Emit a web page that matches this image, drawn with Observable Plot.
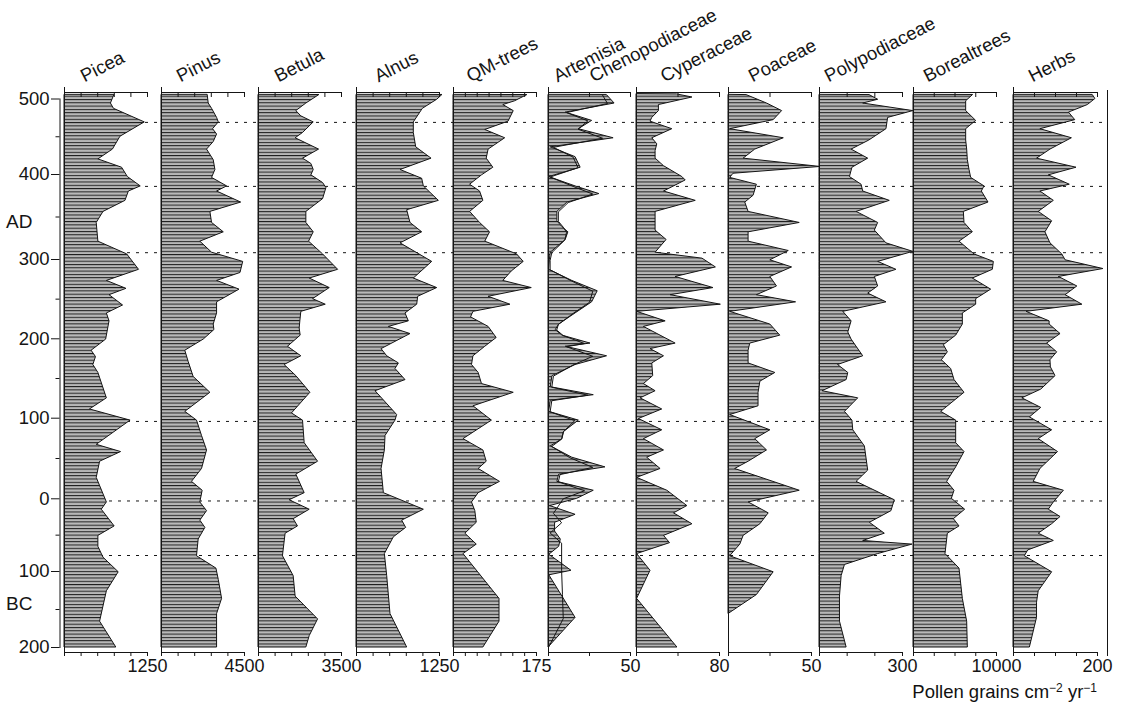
<!DOCTYPE html>
<html><head><meta charset="utf-8">
<script src="https://cdn.jsdelivr.net/npm/d3@7"></script>
<script src="https://cdn.jsdelivr.net/npm/@observablehq/plot@0.6"></script>
<style>
html,body{margin:0;padding:0;background:#fff;}
#chart{position:relative;width:1122px;height:704px;overflow:hidden;font-family:"Liberation Sans",Arial,sans-serif;color:#111;}
#chart svg.layer{position:absolute;left:0;top:0;}
#caption{position:absolute;right:25px;top:683px;font-size:18.5px;line-height:18px;white-space:nowrap;}
#caption sup{font-size:12px;vertical-align:6px;line-height:0;}
</style></head><body>
<svg width="0" height="0" style="position:absolute"><defs>
<pattern id="hatch" patternUnits="userSpaceOnUse" x="0" y="0" width="12" height="3.3">
<rect width="12" height="3.3" fill="#b8b8b8"/><rect y="0" width="12" height="1" fill="#1e1e1e"/>
</pattern></defs></svg>
<div id="chart"><div id="caption">Pollen grains cm<sup>−2</sup> yr<sup>−1</sup></div></div>
<script>
// ---- data: [year (AD +, BC −), pollen influx] ----
const yearTicks = [500, 400, 300, 200, 100, 0, -100, -200];
const yearMinor = [450, 350, 250, 150, 50, -50, -150];
// age–depth model: relative core depth of each labelled age
const tickDepth = [0, 75.5, 160.5, 239.8, 319.2, 399.8, 472.5, 548.5];
const zoneYears = [469, 386, 308, 96, -3, -78];
const eraLabels = [{label: "AD", year: 344}, {label: "BC", year: -143}];

const picea = [[505,750],[494,699],[487,745],[469,1209],[450,842],[433,729],[420,510],[409,867],[397,954],[386,1148],[380,969],[369,918],[356,587],[343,485],[321,510],[306,944],[287,1122],[273,638],[263,933],[255,678],[242,882],[232,638],[222,678],[199,627],[185,408],[177,474],[167,434],[157,510],[125,638],[111,383],[97,995],[67,485],[58,852],[46,536],[26,485],[-5,638],[-15,561],[-38,755],[-51,510],[-66,510],[-81,587],[-101,816],[-126,638],[-166,536],[-200,780]];
const pinus = [[505,2505],[494,2559],[487,2741],[475,3013],[469,3104],[460,2795],[453,3013],[443,2831],[433,2468],[419,2831],[406,2922],[396,2741],[386,3557],[380,3013],[367,4320],[356,2650],[343,2741],[332,3376],[321,2105],[308,2741],[297,4429],[283,4283],[273,3013],[262,4229],[246,3013],[232,3013],[218,2831],[211,2868],[199,2287],[185,1289],[171,1470],[152,1742],[132,2650],[108,1289],[97,1924],[78,2196],[60,2468],[37,2196],[21,1652],[10,2232],[-5,2105],[-17,2468],[-30,2105],[-40,2378],[-56,2015],[-79,1924],[-96,2977],[-111,3104],[-136,3285],[-156,3013],[-200,3013]];
const betula = [[505,2554],[494,2018],[484,1594],[477,1806],[469,2328],[455,1877],[448,1566],[433,2554],[421,1877],[414,2229],[406,2328],[399,2229],[390,2723],[384,2864],[371,2723],[356,2018],[343,2018],[332,2328],[321,2131],[306,2723],[287,3358],[276,2159],[264,3005],[250,2300],[243,2836],[234,1806],[222,1764],[213,1736],[204,1778],[190,1242],[178,1806],[167,1101],[153,1594],[132,2187],[106,1411],[97,1877],[69,1947],[46,2512],[30,1594],[7,1947],[-2,1312],[-15,2159],[-28,1482],[-38,1665],[-48,1143],[-79,1030],[-106,1482],[-133,1566],[-163,2512],[-185,2159],[-200,2018]];
const alnus = [[505,1290],[499,1215],[487,999],[469,863],[455,863],[436,899],[421,1130],[406,663],[395,989],[386,1014],[369,1240],[358,763],[343,813],[332,989],[319,663],[297,1140],[276,863],[264,1215],[253,929],[243,914],[232,738],[222,788],[215,487],[206,813],[187,377],[178,462],[169,638],[162,587],[148,738],[134,286],[104,612],[97,587],[78,437],[60,427],[37,377],[7,412],[-15,1014],[-30,688],[-40,748],[-53,562],[-76,427],[-106,462],[-156,512],[-200,763]];
const qmTrees = [[505,155],[497,130],[492,105],[484,127],[470,116],[459,67],[448,109],[433,74],[421,70],[409,84],[399,60],[388,35],[380,56],[369,63],[356,35],[343,56],[332,77],[321,67],[306,134],[297,148],[285,123],[273,105],[264,165],[253,74],[243,120],[234,42],[227,37],[215,74],[201,91],[190,67],[178,42],[167,39],[157,53],[143,60],[132,127],[115,42],[97,81],[74,21],[60,63],[46,70],[37,53],[21,98],[7,53],[-5,39],[-17,46],[-33,49],[-48,25],[-63,49],[-76,21],[-136,97],[-166,97],[-200,63]];
const artemisia = [[505,35.7],[494,40.3],[482,10.5],[471,26.6],[460,18.5],[448,39.7],[436,1.4],[423,16.5],[409,19.6],[397,0.4],[386,16.5],[377,31],[367,11.5],[356,5.4],[345,5.4],[338,8.5],[332,12.1],[323,10.5],[308,1.4],[299,0.8],[287,0.4],[273,14.5],[260,30],[246,26.6],[232,16.5],[218,6.5],[211,4.4],[204,8.5],[194,25.6],[190,10.5],[178,35.7],[167,16.5],[153,2.4],[139,1.4],[129,27.6],[122,1.4],[108,0.4],[97,18.5],[83,9.5],[74,8.5],[65,1.4],[51,14.5],[39,34.7],[30,6.5],[21,5.4],[10,27.6],[0,17.5],[-10,1],[-22,16.5],[-33,4],[-45,4],[-56,7.5],[-66,6.5],[-77,0.5],[-99,14],[-105,0.5],[-161,16.5],[-200,0]];
const chenopodiaceae = [[505,33],[494,36],[482,11],[471,24],[460,18],[448,33],[436,3],[423,15],[409,18],[397,1],[386,15],[377,27],[367,12],[356,6],[345,6],[338,9],[332,11],[323,10],[308,2],[299,1],[287,1],[273,14],[260,27],[246,25],[232,15],[218,6],[211,5],[204,9],[194,22],[190,11],[178,27],[167,15],[153,3],[139,2],[129,24],[122,2],[108,1],[97,16],[83,9],[74,8],[65,2],[51,13],[39,27],[30,7],[21,6],[10,22],[0,9],[-10,6],[-20,3],[-33,8],[-47,1],[-61,8],[-99,8],[-130,8.5],[-162,9],[-200,0]];
const cyperaceae = [[506,39.4],[502,53.9],[492,21.6],[484,21.6],[475,15.2],[470,13.5],[460,34.5],[448,15.2],[440,20],[431,18.4],[421,18.4],[411,26.5],[397,44.2],[393,47.4],[380,26.5],[369,57.1],[356,18.4],[334,18.4],[323,29],[308,18.4],[301,63.6],[290,76.5],[278,37.7],[264,74.2],[255,32.9],[243,81.3],[234,0.6],[222,28.1],[215,7.1],[194,37.7],[187,13.5],[178,26.5],[169,15.2],[153,16.1],[143,7.1],[134,18.4],[125,3.9],[111,24.8],[99,2.3],[85,24.8],[74,7.1],[60,26.5],[51,10.3],[37,23.2],[26,0.6],[10,29.7],[-10,49],[-20,36.1],[-35,53.9],[-51,26.5],[-61,32.3],[-76,0.6],[-99,13.5],[-136,0.6],[-200,39.4]];
const poaceae = [[505,11.1],[494,23.2],[484,32.3],[472,27.2],[460,1],[448,33.3],[433,16.1],[421,9.1],[410,55.4],[401,3],[396,1],[388,17.1],[375,15.1],[367,10.1],[356,12.1],[343,42.9],[332,12.1],[321,12.1],[310,36.3],[299,25.2],[290,38.3],[278,25.2],[266,29.2],[255,17.1],[246,40.7],[234,1],[218,25.2],[204,31.2],[194,13.1],[185,12.1],[169,12.1],[157,28.2],[146,19.2],[132,18.1],[115,18.1],[104,1],[85,25.2],[74,16.1],[60,23.2],[46,12.1],[37,4],[10,42.9],[-5,12.1],[-20,24.2],[-35,19.2],[-51,9.1],[-63,7.1],[-79,1],[-101,27.2],[-131,17.1],[-156,0]];
const polypodiaceae = [[505,182],[499,212],[494,158],[484,339],[475,248],[460,242],[445,180],[433,116],[421,176],[409,119],[397,110],[388,152],[380,158],[369,254],[356,134],[343,212],[334,200],[319,242],[309,339],[297,212],[287,278],[278,200],[266,212],[257,176],[246,242],[234,86],[222,116],[208,104],[199,116],[178,158],[167,67],[157,104],[148,98],[134,11],[125,140],[108,92],[97,119],[85,122],[65,164],[35,176],[21,134],[-2,272],[-17,260],[-33,182],[-48,236],[-58,158],[-63,336],[-76,212],[-91,92],[-106,80],[-133,74],[-166,74],[-200,98]];
const borealTrees = [[505,7148],[497,6345],[484,6345],[471,7550],[460,6345],[445,6345],[433,6466],[419,6546],[406,6747],[396,6948],[386,8554],[380,8233],[367,9036],[356,6064],[343,6144],[332,7148],[321,5542],[306,7349],[297,9679],[287,9558],[276,7148],[262,9357],[250,7550],[243,7550],[232,5944],[218,5944],[204,5140],[192,3655],[183,4136],[173,3414],[162,4538],[148,4940],[132,6144],[108,3333],[97,5140],[69,5140],[58,6144],[39,5140],[21,4056],[10,4940],[0,4618],[-15,6225],[-28,4859],[-38,5542],[-48,4136],[-76,3855],[-96,5542],[-136,5944],[-166,6466],[-200,6546]];
const herbs = [[505,189],[500,195],[492,177],[482,132],[472,147],[460,64],[448,139],[433,88],[421,56],[409,150],[399,84],[388,134],[380,64],[369,96],[356,60],[345,92],[332,76],[319,88],[306,116],[299,124],[288,214],[278,108],[266,152],[255,124],[243,164],[234,31],[222,86],[218,86],[206,112],[194,80],[183,104],[173,88],[164,89],[153,100],[136,66],[125,21],[113,66],[101,39],[85,92],[74,60],[58,106],[37,64],[21,48],[10,120],[-5,96],[-15,84],[-25,112],[-35,92],[-48,60],[-58,96],[-71,35],[-79,27],[-101,92],[-126,60],[-141,56],[-161,56],[-200,39]];

// ---- layout ----
const W = 1122, H = 704;
const ageDepth = d3.scaleLinear().domain(yearTicks).range(tickDepth); // year -> depth (piecewise)
const depthExtent = [tickDepth[0], tickDepth[tickDepth.length - 1]];
const depthRange = [98.5, 647];
const yOf = year => ageDepth(year);
const panels = [
  {titles: [["Picea", 20]], fill: picea, max: 1250, step: 250, left: 64, right: 147},
  {titles: [["Pinus", 19]], fill: pinus, max: 4500, step: 900, left: 161, right: 244},
  {titles: [["Betula", 20]], fill: betula, max: 3500, step: 700, left: 258, right: 341},
  {titles: [["Alnus", 22]], fill: alnus, max: 1250, step: 250, left: 356, right: 439},
  {titles: [["QM-trees", 17]], fill: qmTrees, max: 175, step: 25, left: 453, right: 536},
  {titles: [["Artemisia", 9], ["Chenopodiaceae", 45]], fill: artemisia, line: chenopodiaceae, max: 50, step: 25, left: 548, right: 630},
  {titles: [["Cyperaceae", 28]], fill: cyperaceae, max: 80, step: 40, left: 636, right: 719},
  {titles: [["Poaceae", 24]], fill: poaceae, max: 50, step: 25, left: 728, right: 811},
  {titles: [["Polypodiaceae", 9]], fill: polypodiaceae, max: 300, step: 100, left: 819, right: 902},
  {titles: [["Borealtrees", 14]], fill: borealTrees, max: 10000, step: 2500, left: 913, right: 996},
  {titles: [["Herbs", 19]], fill: herbs, max: 200, step: 50, left: 1013, right: 1097}
];
const ink = "#151515";
const baseStyle = {background: "transparent", fontFamily: "'Liberation Sans', Arial, sans-serif", fontSize: "18px", color: ink, overflow: "visible", maxWidth: "none"};
const yScale = {domain: depthExtent, range: depthRange};
const chart = document.getElementById("chart");
function add(svg) { svg.classList.add("layer"); svg.style.position = "absolute"; svg.style.left = "0"; svg.style.top = "0"; chart.appendChild(svg); }

// dashed zone lines + right border (underneath everything)
add(Plot.plot({
  width: W, height: H, marginLeft: 64, marginRight: W - 1107, marginTop: 90, marginBottom: H - 655,
  style: baseStyle,
  y: {...yScale, axis: null},
  marks: [
    Plot.ruleY(zoneYears, {y: yOf, stroke: ink, strokeWidth: 1, strokeDasharray: "3,6"}),
    Plot.frame({anchor: "right", stroke: ink})
  ]
}));

// age axis
add(Plot.plot({
  width: W, height: H, marginLeft: 59.5, marginRight: W - 70, marginTop: 98.5, marginBottom: H - 647,
  style: {...baseStyle, fontSize: "18.5px"},
  y: yScale,
  marks: [
    Plot.frame({anchor: "left", stroke: ink}),
    Plot.axisY({ticks: yearTicks.map(yOf), tickSize: 8.5, tickPadding: 2, tickFormat: v => String(Math.abs(Math.round(ageDepth.invert(v)))), label: null, stroke: ink}),
    Plot.axisY({ticks: yearMinor.map(yOf), tickSize: 4, tickFormat: () => "", label: null, stroke: ink}),
    Plot.text(eraLabels, {y: d => yOf(d.year), text: "label", frameAnchor: "left", dx: -54, textAnchor: "start", fontSize: 19})
  ]
}));

// taxon panels
for (const p of panels) {
  const ticks = d3.range(0, p.max + p.step / 2, p.step);
  const marks = [
    Plot.areaX(p.fill, {y: d => yOf(d[0]), x: d => d[1], fill: "url(#hatch)", stroke: ink, strokeWidth: 1})
  ];
  if (p.line) marks.push(Plot.lineX(p.line, {y: d => yOf(d[0]), x: d => d[1], stroke: ink, strokeWidth: 1}));
  marks.push(
    Plot.ruleX([0], {stroke: ink, insetTop: -5, insetBottom: -2}),
    Plot.frame({anchor: "top", stroke: ink}),
    Plot.frame({anchor: "bottom", stroke: ink}),
    Plot.axisX({anchor: "top", ticks, tickSize: -4, tickFormat: () => "", label: null, stroke: ink}),
    Plot.axisX({anchor: "bottom", ticks, tickSize: 4, tickPadding: 3, tickFormat: d => d === p.max ? String(p.max) : "", label: null, stroke: ink}),
    ...p.titles.map(([t, dx]) => Plot.text([t], {frameAnchor: "top-left", dx, dy: -10, rotate: -27, textAnchor: "start", lineAnchor: "bottom", fontSize: 18.5}))
  );
  add(Plot.plot({
    width: W, height: H, marginLeft: p.left, marginRight: W - p.right, marginTop: 92, marginBottom: H - 652,
    style: baseStyle,
    x: {domain: [0, p.max]},
    y: {...yScale, axis: null},
    marks
  }));
}
chart.appendChild(document.getElementById("caption"));
</script>
</body></html>
